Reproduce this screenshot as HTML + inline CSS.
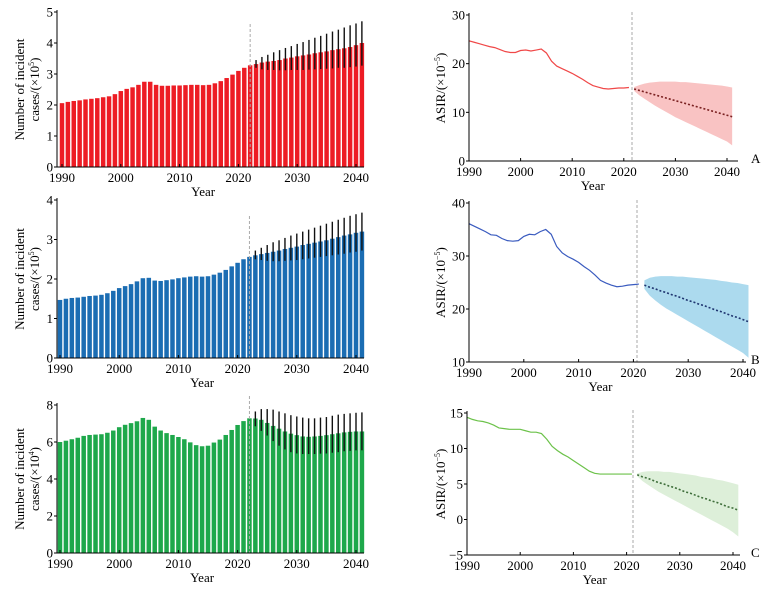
<!DOCTYPE html>
<html><head><meta charset="utf-8"><style>
html,body{margin:0;padding:0;background:#fff;}
svg{display:block;font-family:"Liberation Serif",serif;}
</style></head><body>
<svg id="c" width="767" height="594" viewBox="0 0 767 594"></svg>
<script>
const years = Array.from({length:52},(_,i)=>1990+i);
const projYears = Array.from({length:20},(_,i)=>2022+i);
const errYears = Array.from({length:19},(_,i)=>2023+i);
const histYears = Array.from({length:32},(_,i)=>1990+i);

const barsA=[2.06,2.1,2.13,2.15,2.18,2.2,2.22,2.25,2.28,2.35,2.45,2.52,2.57,2.65,2.75,2.75,2.65,2.62,2.62,2.63,2.63,2.64,2.65,2.65,2.64,2.65,2.7,2.77,2.87,2.98,3.1,3.2,3.28,3.32,3.37,3.4,3.42,3.45,3.5,3.53,3.57,3.6,3.63,3.67,3.7,3.73,3.77,3.8,3.83,3.87,3.93,4.0];
const errUpA=[3.45,3.55,3.62,3.7,3.77,3.84,3.9,3.97,4.03,4.1,4.17,4.23,4.3,4.37,4.43,4.5,4.57,4.63,4.7];
const errLoA=[3.2,3.15,3.13,3.13,3.12,3.12,3.13,3.13,3.13,3.14,3.15,3.16,3.17,3.18,3.2,3.2,3.22,3.24,3.27];
const barsB=[1.47,1.5,1.52,1.53,1.55,1.57,1.58,1.6,1.64,1.7,1.77,1.82,1.87,1.94,2.02,2.03,1.96,1.95,1.97,1.99,2.02,2.04,2.06,2.07,2.06,2.07,2.11,2.16,2.23,2.32,2.41,2.5,2.56,2.6,2.63,2.66,2.69,2.72,2.76,2.79,2.82,2.86,2.89,2.92,2.95,2.98,3.02,3.06,3.1,3.13,3.17,3.2];
const errUpB=[2.72,2.79,2.86,2.93,2.98,3.04,3.1,3.15,3.2,3.25,3.3,3.35,3.4,3.45,3.5,3.55,3.6,3.64,3.68];
const errLoB=[2.5,2.48,2.46,2.45,2.45,2.46,2.47,2.48,2.5,2.52,2.54,2.56,2.58,2.6,2.62,2.64,2.67,2.69,2.72];
const barsC=[6.0,6.07,6.15,6.23,6.33,6.38,6.4,6.42,6.5,6.62,6.8,6.93,7.02,7.12,7.3,7.2,6.83,6.62,6.48,6.38,6.27,6.15,5.98,5.83,5.77,5.8,5.97,6.13,6.38,6.65,6.92,7.13,7.28,7.27,7.2,7.03,6.87,6.72,6.57,6.45,6.37,6.3,6.28,6.3,6.33,6.37,6.42,6.47,6.52,6.55,6.57,6.57];
const errUpC=[7.65,7.78,7.78,7.75,7.65,7.55,7.45,7.38,7.32,7.28,7.28,7.32,7.35,7.42,7.48,7.52,7.55,7.58,7.6];
const errLoC=[6.85,6.6,6.35,6.05,5.8,5.6,5.45,5.38,5.35,5.35,5.35,5.37,5.38,5.42,5.45,5.5,5.52,5.55,5.55];

const lineA=[24.7,24.4,24.1,23.8,23.5,23.3,22.9,22.5,22.3,22.3,22.7,22.8,22.6,22.8,23.0,22.2,20.5,19.5,19.0,18.5,18.0,17.4,16.8,16.1,15.5,15.2,14.9,14.8,14.9,15.0,15.0,15.1];
const meanA=[14.8,14.5,14.2,13.9,13.6,13.3,13.0,12.7,12.4,12.1,11.8,11.5,11.2,10.9,10.6,10.3,10.0,9.7,9.4,9.1];
const upA=[15.2,15.6,15.9,16.1,16.2,16.3,16.3,16.3,16.3,16.2,16.2,16.1,16.0,15.9,15.8,15.7,15.6,15.5,15.3,15.1];
const loA=[14.4,13.5,12.8,12.1,11.4,10.8,10.2,9.6,9.0,8.5,8.0,7.5,7.0,6.5,6.0,5.5,5.0,4.5,4.0,3.2];
const lineB=[36.1,35.6,35.1,34.6,34.0,33.9,33.3,32.9,32.8,32.9,33.7,34.1,34.0,34.6,35.0,34.1,31.8,30.6,29.9,29.4,28.8,28.0,27.3,26.4,25.4,24.9,24.5,24.2,24.3,24.5,24.6,24.7];
const meanB=[24.5,24.1,23.8,23.4,23.1,22.7,22.4,22.0,21.6,21.3,20.9,20.6,20.2,19.8,19.5,19.1,18.7,18.4,18.0,17.6];
const upB=[25.4,25.9,26.1,26.2,26.2,26.2,26.1,26.1,26.0,25.9,25.8,25.7,25.6,25.5,25.3,25.2,25.0,24.9,24.7,24.5];
const loB=[23.8,22.5,21.6,20.8,20.1,19.5,18.9,18.3,17.7,17.1,16.5,15.9,15.3,14.7,14.1,13.5,12.9,12.3,11.7,10.8];
const lineC=[14.4,14.1,13.9,13.8,13.6,13.3,12.9,12.8,12.7,12.7,12.7,12.5,12.3,12.3,12.1,11.3,10.3,9.7,9.2,8.8,8.3,7.8,7.3,6.8,6.5,6.4,6.4,6.4,6.4,6.4,6.4,6.4];
const meanC=[6.3,6.0,5.8,5.5,5.2,5.0,4.7,4.5,4.2,3.9,3.7,3.4,3.1,2.9,2.6,2.4,2.1,1.8,1.6,1.3];
const upC=[6.5,6.7,6.8,6.8,6.8,6.7,6.7,6.6,6.5,6.4,6.3,6.2,6.0,5.9,5.8,5.6,5.5,5.3,5.1,4.9];
const loC=[6.1,5.4,4.9,4.4,3.9,3.5,3.1,2.7,2.3,1.9,1.5,1.1,0.7,0.3,-0.1,-0.5,-0.9,-1.3,-1.8,-2.4];

const xTicks=[1990,2000,2010,2020,2030,2040];
const ticksLeftA=[0,1,2,3,4,5], ticksLeftB=[0,1,2,3,4], ticksLeftC=[0,2,4,6,8];
const ticksRightA=[0,10,20,30], ticksRightB=[10,20,30,40], ticksRightC=[-5,0,5,10,15];

const NS="http://www.w3.org/2000/svg";
const svg=document.getElementById('c');
function el(tag,attrs,parent,text){const e=document.createElementNS(NS,tag);for(const k in attrs)e.setAttribute(k,attrs[k]);if(text!==undefined)e.textContent=text;(parent||svg).appendChild(e);return e;}

function axes(g,cfg,xs,ys,yticks,pre){
  let a=el('line',{x1:cfg.ax,y1:cfg.yTopPx-2,x2:cfg.ax,y2:cfg.y0px,stroke:'#000','stroke-width':1},g);
  
  
  let b=el('line',{x1:cfg.ax,y1:cfg.y0px,x2:cfg.right,y2:cfg.y0px,stroke:'#000','stroke-width':1},g);
  
  
  yticks.forEach(v=>{
    el('line',{x1:cfg.ax-3,y1:ys(v),x2:cfg.ax,y2:ys(v),stroke:'#000'},g);
    const t=el('text',{x:cfg.ax-4,y:ys(v)+4.5,'text-anchor':'end','font-size':13},g,String(v<0?'−'+(-v):v));
    
    
  });
  xTicks.forEach(v=>{
    el('line',{x1:xs(v),y1:cfg.y0px,x2:xs(v),y2:cfg.y0px-3,stroke:'#000'},g);
    const t=el('text',{x:xs(v),y:cfg.y0px+15,'text-anchor':'middle','font-size':13},g,String(v));
    
    
  });
  const yl=el('text',{x:(xs(2014)),y:cfg.y0px+29,'text-anchor':'middle','font-size':13},g,'Year');
  
  
}

function barPanel(cfg,bars,up,lo,yticks,exp,color,pre){
  const g=el('g',{});
  
  
  const xs=y=>cfg.x1990+(y-1990)*(cfg.x2040-cfg.x1990)/50;
  const ys=v=>cfg.y0px-(v-yticks[0])*(cfg.y0px-cfg.yTopPx)/(yticks[yticks.length-1]-yticks[0]);
  const w=(cfg.x2040-cfg.x1990)/50*0.76;
  years.forEach((yr,i)=>{
    const r=el('rect',{x:xs(yr)-w/2,y:ys(bars[i]),width:w,height:cfg.y0px-ys(bars[i]),fill:color},g);
    
    
  });
  errYears.forEach((yr,i)=>{
    const l=el('line',{x1:xs(yr),x2:xs(yr),y1:ys(up[i]),y2:ys(lo[i]),stroke:'#111','stroke-width':1.4},g);
    
    
  });
  const d=el('line',{x1:xs(2022),x2:xs(2022),y1:cfg.dashTop,y2:cfg.y0px,stroke:'#aaa','stroke-dasharray':'3,2','stroke-width':1},g);
  
  
  axes(g,cfg,xs,ys,yticks,pre);
  const cy=(cfg.y0px+cfg.yTopPx)/2;
  const t=el('text',{transform:`translate(24,${cy}) rotate(-90)`,'text-anchor':'middle','font-size':13},g);
  
  
  el('tspan',{x:0,dy:0},t,'Number of incident');
  const s2=el('tspan',{x:0,dy:15},t,'cases/(×10');
  el('tspan',{dy:-5,'font-size':8},t,String(exp));
  el('tspan',{dy:5},t,')');
}

function linePanel(cfg,line,mean,up,lo,yticks,lc,band,mc,letter,pre){
  const g=el('g',{});
  
  
  const xs=y=>cfg.x1990+(y-1990)*(cfg.x2040-cfg.x1990)/50;
  const ys=v=>cfg.y0px-(v-yticks[0])*(cfg.y0px-cfg.yTopPx)/(yticks[yticks.length-1]-yticks[0]);
  let pts=projYears.map((y,i)=>xs(y)+','+ys(up[i]));
  pts=pts.concat(projYears.slice().reverse().map((y,k)=>xs(y)+','+ys(lo[19-k])));
  const p=el('polygon',{points:pts.join(' '),fill:band},g);
  
  
  const h=el('polyline',{points:histYears.map((y,i)=>xs(y)+','+ys(line[i])).join(' '),fill:'none',stroke:lc,'stroke-width':1.2},g);
  
  
  const m=el('polyline',{points:projYears.map((y,i)=>xs(y)+','+ys(mean[i])).join(' '),fill:'none',stroke:mc,'stroke-width':1.6,'stroke-dasharray':'2,2'},g);
  
  
  const d=el('line',{x1:cfg.dashX,x2:cfg.dashX,y1:cfg.yTopPx-3,y2:cfg.y0px,stroke:'#aaa','stroke-dasharray':'3,2'},g);
  
  
  axes(g,cfg,xs,ys,yticks,pre);
  const cy=(cfg.y0px+cfg.yTopPx)/2;
  const t=el('text',{transform:`translate(445,${cy}) rotate(-90)`,'text-anchor':'middle','font-size':13},g);
  
  
  el('tspan',{},t,'ASIR/(×10');
  el('tspan',{dy:-5,'font-size':8},t,'−5');
  el('tspan',{dy:5},t,')');
  const L=el('text',{x:751,y:cfg.y0px+2,'font-size':13},g,letter);
  
  
}

barPanel({ax:57,x1990:62,x2040:356,right:364,yTopPx:12,y0px:167,dashTop:24},barsA,errUpA,errLoA,ticksLeftA,5,'#ed1c24','left-a');
barPanel({ax:57,x1990:60,x2040:356,right:364,yTopPx:200,y0px:358,dashTop:216},barsB,errUpB,errLoB,ticksLeftB,5,'#1b6db3','left-b');
barPanel({ax:57,x1990:60,x2040:356,right:364,yTopPx:405,y0px:553,dashTop:396},barsC,errUpC,errLoC,ticksLeftC,4,'#1ea84b','left-c');
linePanel({ax:469,x1990:469,x2040:727,right:738,yTopPx:15,y0px:161,dashX:632},lineA,meanA,upA,loA,ticksRightA,'#f04848','#f9c3c3','#7a2020','A','right-a');
linePanel({ax:469,x1990:469,x2040:743,right:746,yTopPx:203,y0px:362,dashX:637},lineB,meanB,upB,loB,ticksRightB,'#3a5bbf','#acdaee','#1f3570','B','right-b');
linePanel({ax:467,x1990:467,x2040:733,right:740,yTopPx:413,y0px:555,dashX:633},lineC,meanC,upC,loC,ticksRightC,'#6cc24a','#ddefd9','#3e6e3a','C','right-c');
</script>
</body></html>
